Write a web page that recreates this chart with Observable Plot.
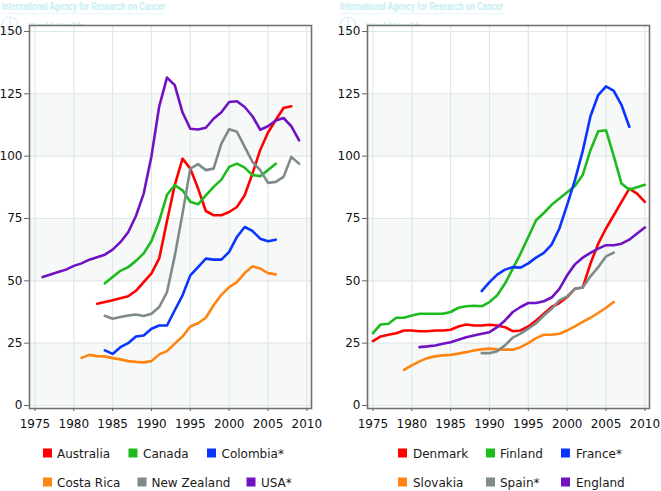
<!DOCTYPE html>
<html><head><meta charset="utf-8">
<script src="https://cdn.jsdelivr.net/npm/d3@7"></script>
<script src="https://cdn.jsdelivr.net/npm/@observablehq/plot@0.6"></script>
<style>
body{margin:0;background:#fff;font-family:"DejaVu Sans",Verdana,sans-serif;}
#wrap{position:relative;width:661px;height:491px;overflow:hidden;background:#fff;}
#wrap > svg{position:absolute;top:0;}
</style></head><body><div id="wrap"></div>
<script>
// ---- data ----
const xTicks = [1975, 1980, 1985, 1990, 1995, 2000, 2005, 2010];
const yTicks = [0, 25, 50, 75, 100, 125, 150];

const leftNames = ["Australia", "Canada", "Colombia*", "Costa Rica", "New Zealand", "USA*"];
const rightNames = ["Denmark", "Finland", "France*", "Slovakia", "Spain*", "England"];

const australiaStart = 1983;
const australia = [40.8,41.5,42.2,43,43.8,46,49.5,53,59,74,88.4,99,95,87,78,76.3,76.3,77.6,79.6,84.3,93,102.5,109.5,114.5,119.3,120];
const canadaStart = 1984;
const canada = [49,51.5,54,55.5,58,61,66,74,84.5,88.4,86.3,81.7,80.7,84.3,87.7,90.6,95.7,97,95.4,92.4,92,94.4,97];
const colombiaStart = 1984;
const colombia = [22.1,20.7,23.4,25,27.7,28.1,30.8,32.1,32.1,38.2,44.2,52.2,55.5,58.9,58.5,58.5,61.6,67.6,71.6,70,66.9,65.9,66.5];
const costaRicaStart = 1981;
const costaRica = [19.1,20.3,19.8,19.7,19,18.5,17.8,17.5,17.3,17.8,20.5,21.8,24.8,27.7,31.7,33,35.2,40.2,44.4,47.5,49.5,53.1,55.8,54.9,53.1,52.6];
const newZealandStart = 1984;
const newZealand = [36,34.8,35.5,36.1,36.5,35.9,36.8,39.5,45.5,60,77,95,96.8,94.4,95,105,110.8,109.8,103.7,97.7,94.4,89.3,89.7,91.7,99.7,97];
const usaStart = 1976;
const usa = [51.5,52.5,53.5,54.5,56,57,58.5,59.5,60.5,62.5,65.5,69.5,76,85,100,120,131.5,128.5,117.5,111,110.7,111.4,115,117.6,121.7,122,119.7,116,110.6,112,114.3,115.3,112,106.3];

const denmarkStart = 1975;
const denmark = [25.8,27.7,28.4,29,30.1,30.1,29.8,29.8,30.1,30.1,30.4,31.7,32.5,32.1,32.1,32.4,32.1,31.4,29.8,30.1,31.7,34.1,36.8,39.5,41.1,43.5,46.8,47.3,56.9,64.9,71,76.3,81.7,87,85,81.7];
const finlandStart = 1975;
const finland = [29,32.5,32.8,35.2,35.2,36.1,36.8,36.8,36.8,36.8,37.5,39.2,39.8,40,39.8,41.5,44.2,48.9,54.9,60.9,67.6,74.3,77.2,80.5,83,85.5,88,92.4,102.4,110,110.4,100,89,86.5,87.5,88.5];
const franceStart = 1989;
const france = [45.9,49.5,52.5,54.5,55.5,55.3,57,59.3,61.2,64.5,71,80.5,90.4,102,116,124.5,128,126.2,120.5,111.8];
const slovakiaStart = 1979;
const slovakia = [14.3,16.1,17.7,19,19.7,20.1,20.3,20.8,21.4,22.1,22.5,22.8,22.5,22.4,22.4,23.4,25,27,28.4,28.4,28.8,30.1,31.7,33.5,35.2,37.1,39.2,41.5];
const spainStart = 1989;
const spain = [21,21,21.8,24.1,27.2,28.8,30.8,33,36.1,38.8,42.2,43.8,46.8,47.3,51.8,55.5,59.8,61.3];
const englandStart = 1981;
const england = [23.4,23.7,24.1,24.8,25.4,26.4,27.4,28.1,28.8,29.4,31.4,34.1,37.5,39.5,41.1,41.1,41.8,43.3,46.8,52.2,56.6,59.3,61.2,62.9,64.3,64.3,64.9,66.5,69,71.4];

const headerText = "International Agency for Research on Cancer";
const headerSub = "World Health";

// ---- styles ----
const palette = ["#ff0000", "#1dbb1d", "#0a35ff", "#ff8512", "#7f8b8b", "#7012c4"];
const FONT = "DejaVu Sans, Verdana, sans-serif";

function series(name, start, values) {
  return values.map((v, i) => ({country: name, year: start + i, value: v}));
}
const leftRows = [
  ...series(leftNames[0], australiaStart, australia),
  ...series(leftNames[1], canadaStart, canada),
  ...series(leftNames[2], colombiaStart, colombia),
  ...series(leftNames[3], costaRicaStart, costaRica),
  ...series(leftNames[4], newZealandStart, newZealand),
  ...series(leftNames[5], usaStart, usa)
];
const rightRows = [
  ...series(rightNames[0], denmarkStart, denmark),
  ...series(rightNames[1], finlandStart, finland),
  ...series(rightNames[2], franceStart, france),
  ...series(rightNames[3], slovakiaStart, slovakia),
  ...series(rightNames[4], spainStart, spain),
  ...series(rightNames[5], englandStart, england)
];

const wrap = d3.select("#wrap");

// header (behind the charts)
const hdr = wrap.append("svg").attr("width", 661).attr("height", 40).style("left", "0px");
[0, 338].forEach(off => {
  hdr.append("text").attr("x", off + 2).attr("y", 9.5).attr("textLength", 163)
    .attr("lengthAdjust", "spacingAndGlyphs")
    .style("font", "bold 10px 'Liberation Sans', Arial, sans-serif").attr("fill", "#c2eef1").text(headerText);
  hdr.append("line").attr("x1", off + 2).attr("x2", off + 165).attr("y1", 13.5).attr("y2", 13.5)
    .attr("stroke", "#cdf1f3").attr("stroke-dasharray", "1 1");
  hdr.append("circle").attr("cx", off + 10).attr("cy", 25).attr("r", 8)
    .attr("fill", "none").attr("stroke", "#cdf1f3").attr("stroke-width", 1.2);
  hdr.append("line").attr("x1", off + 10).attr("x2", off + 10).attr("y1", 18).attr("y2", 32)
    .attr("stroke", "#cdf1f3");
  hdr.append("text").attr("x", off + 28).attr("y", 28.5)
    .style("font", "bold 9px 'Liberation Sans', Arial, sans-serif").attr("fill", "#c2eef1").text(headerSub);
});

function panel(rows, names, width, marginRight) {
  const bandStarts = yTicks.filter((t, i) => i % 2 === 0 && i < yTicks.length - 1);
  return Plot.plot({
    width, height: 432,
    marginLeft: 29, marginRight, marginTop: 25, marginBottom: 24,
    x: {domain: [1974.3, 2010.6], label: null},
    y: {domain: [-1.2, 152.4], label: null},
    color: {domain: names, range: palette},
    style: {fontFamily: FONT, fontSize: "12px", color: "#111", background: "transparent", overflow: "visible"},
    marks: [
      Plot.frame({fill: "white"}),
      Plot.rect(bandStarts, {y1: d => d, y2: d => d + 25, fill: "#f7f9f9"}),
      Plot.gridX(xTicks, {stroke: "#e0e8e8", strokeOpacity: 1, strokeWidth: 1.2}),
      Plot.gridY(yTicks, {stroke: "#e0e8e8", strokeOpacity: 1, strokeWidth: 1.2}),
      Plot.line(rows, {x: "year", y: "value", z: "country", stroke: "country", strokeWidth: 2.6, curve: "linear"}),
      Plot.frame({stroke: "#727272", strokeWidth: 1.6}),
      Plot.axisX(xTicks, {tickSize: 3, tickPadding: 8, tickFormat: d => String(d), fontSize: 12, stroke: "#666"}),
      Plot.axisY(yTicks, {tickSize: 5, tickPadding: 2, tickFormat: d => String(d), fontSize: 12, stroke: "#666"})
    ]
  });
}

const left = panel(leftRows, leftNames, 330, 19);
left.style.position = "absolute"; left.style.left = "0px"; left.style.top = "0px";
wrap.node().appendChild(left);
const right = panel(rightRows, rightNames, 323, 12);
right.style.position = "absolute"; right.style.left = "338px"; right.style.top = "0px";
wrap.node().appendChild(right);

// legends
const legendLayout = [
  {names: leftNames, sq: [43, 128.5, 207, 43, 137.5, 246.5], tx: [57, 143, 221.5, 57, 151.5, 261]},
  {names: rightNames, sq: [398, 486, 561, 398, 486, 561], tx: [413, 500, 576, 413, 500, 576]}
];
const leg = wrap.append("svg").attr("width", 661).attr("height", 60).style("top", "436px").style("left", "0px");
legendLayout.forEach(L => {
  L.names.forEach((n, i) => {
    const row = i < 3 ? 0 : 1;
    const base = row === 0 ? 21.5 : 50.5;
    leg.append("rect").attr("x", L.sq[i]).attr("y", base - 9).attr("width", 9).attr("height", 9).attr("fill", palette[i]);
    leg.append("text").attr("x", L.tx[i]).attr("y", base).style("font", "12px " + FONT).attr("fill", "#1a1a1a").text(n);
  });
});
</script></body></html>
